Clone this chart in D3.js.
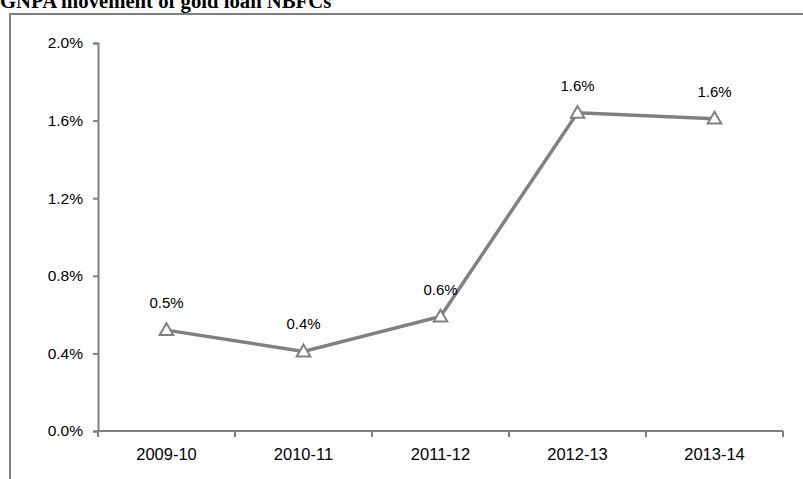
<!DOCTYPE html>
<html><head><meta charset="utf-8">
<script src="https://cdn.jsdelivr.net/npm/d3@7"></script>
<style>body{margin:0;background:#fff}</style>
</head><body>
<svg id="c" width="803" height="479"></svg>
<script>
const title = "GNPA movement of gold loan NBFCs";
const categories = ["2009-10","2010-11","2011-12","2012-13","2013-14"];
const values = [0.0052, 0.0041, 0.0059, 0.0164, 0.0161];
const labels = ["0.5%","0.4%","0.6%","1.6%","1.6%"];
const yTicks = [0, 0.004, 0.008, 0.012, 0.016, 0.020];

const svg = d3.select("#c");
svg.append("rect").attr("x",10).attr("y",14).attr("width",820).attr("height",500)
  .attr("fill","none").attr("stroke","#808080").attr("stroke-width",2);
svg.append("text").attr("x",0).attr("y",8).text(title)
  .attr("font-family","Liberation Serif, Times New Roman, serif").attr("font-weight","bold")
  .attr("font-size",20.7).attr("fill","#000");

const x = d3.scaleBand().domain(categories).range([98,783]);
const y = d3.scaleLinear().domain([0,0.02]).range([431,43]);

const gy = svg.append("g").attr("transform","translate(98,0)")
  .call(d3.axisLeft(y).tickValues(yTicks).tickFormat(d3.format(".1%")).tickSize(5).tickPadding(10));
const gx = svg.append("g").attr("transform","translate(0,431)")
  .call(d3.axisBottom(x).tickSize(0).tickPadding(17));
[gy,gx].forEach(g=>{
  g.selectAll("path,line").attr("stroke","#808080").attr("stroke-width",2);
  g.selectAll("text").attr("font-family","Liberation Sans, Arial, sans-serif").attr("fill","#000");
});
gy.selectAll("text").attr("font-size",15.5);
gx.selectAll("text").attr("font-size",16.5);
gx.select(".domain").attr("d","M98,0H783");
const bounds = categories.map(c=>x(c)).concat([x.range()[1]]);
gx.selectAll(".bt").data(bounds).enter().append("line").attr("class","bt")
  .attr("x1",d=>d).attr("x2",d=>d).attr("y1",0).attr("y2",6)
  .attr("stroke","#808080").attr("stroke-width",2);

const cx = c=>x(c)+x.bandwidth()/2;
const line = d3.line().x((d,i)=>cx(categories[i])).y(d=>y(d));
svg.append("path").datum(values).attr("d",line).attr("fill","none")
  .attr("stroke","#808080").attr("stroke-width",3.5);
const tri = d3.symbol().type(d3.symbolTriangle).size(80);
svg.selectAll(".m").data(values).enter().append("path")
  .attr("transform",(d,i)=>`translate(${cx(categories[i])},${y(d)+1})`)
  .attr("d",tri).attr("fill","#fff").attr("stroke","#808080").attr("stroke-width",2);
svg.selectAll(".lb").data(values).enter().append("text")
  .attr("x",(d,i)=>cx(categories[i])).attr("y",d=>y(d)-22)
  .attr("text-anchor","middle").attr("font-family","Liberation Sans, Arial, sans-serif")
  .attr("font-size",15).attr("fill","#000").text((d,i)=>labels[i]);
</script>
</body></html>
